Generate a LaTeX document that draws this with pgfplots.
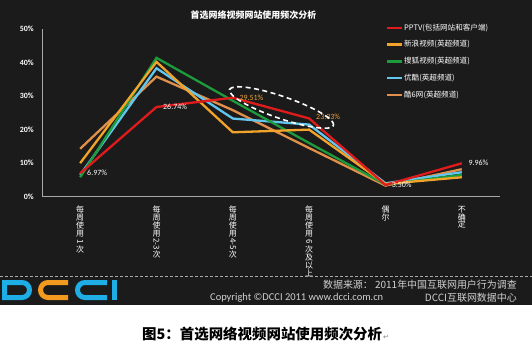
\documentclass[border=0pt]{standalone}
\usepackage{pgfplots}
\pgfplotsset{compat=1.18}
\usepackage{graphicx}
\usepackage{fontspec}
\usetikzlibrary{shapes.geometric}
\setmainfont{Carlito}
\newfontfamily\cjk{Noto Sans CJK SC}
\newfontfamily\djv{DejaVu Sans}
\definecolor{bg}{HTML}{1B1B1B}
\definecolor{cred}{HTML}{E01B1B}
\definecolor{csina}{HTML}{F2A42A}
\definecolor{cgreen}{HTML}{1E9B3C}
\definecolor{cblue}{HTML}{62C6EE}
\definecolor{ck6}{HTML}{E0904A}
\definecolor{lblorange}{HTML}{E9A23B}
\definecolor{axisgray}{HTML}{A8A8A8}
\definecolor{foot}{HTML}{D0D0D0}
\definecolor{logoblue}{HTML}{1FADE6}
\definecolor{logoorange}{HTML}{F29A1F}
\begin{document}
\begin{tikzpicture}
\path[use as bounding box] (0,0) rectangle (532bp,-354bp);
\fill[white] (0,0) rectangle (532bp,-354bp);
\fill[bg] (0,0) rectangle (532bp,-305bp);
\node[text=white, font=\cjk\bfseries\fontsize{9}{9}\selectfont] at (253.5bp,-15bp) {首选网络视频网站使用频次分析};
\begin{axis}[
  at={(42bp,-196.7bp)}, anchor=south west,
  scale only axis, width=458bp, height=167.7bp,
  xmin=-0.5, xmax=5.5, ymin=0, ymax=50,
  axis lines*=left,
  axis line style={axisgray, line width=1bp},
  major tick length=0pt,
  ytick={0,10,20,30,40,50},
  yticklabel={\pgfmathprintnumber{\tick}\%},
  yticklabel style={text=white, font=\bfseries\fontsize{8}{8}\selectfont, /pgf/number format/assume math mode=true, inner sep=0pt, xshift=-8bp},
  xtick={0,1,2,3,4,5},
  xticklabels={
    {每\\周\\使\\用\\\rotatebox[origin=c]{-90}{1}\\次},
    {每\\周\\使\\用\\\rotatebox[origin=c]{-90}{2-3}\\次},
    {每\\周\\使\\用\\\rotatebox[origin=c]{-90}{4-5}\\次},
    {每\\周\\使\\用\\\rotatebox[origin=c]{-90}{6}\\次\\及\\以\\上},
    {偶\\尔},
    {不\\确\\定}},
  xticklabel style={text=white, align=center, font=\cjk\fontsize{8}{8}\selectfont, anchor=north, inner sep=0pt, yshift=-9bp},
  clip=false,
  every axis plot/.append style={line width=2.3bp},
  legend style={at={(axis description cs:0.751,1.035)}, anchor=north west, draw=none, fill=none, text=white,
    font=\cjk\fontsize{7.6}{7.6}\selectfont, row sep=7.8bp, inner sep=0pt,
    nodes={inner sep=0.6bp, text height=6.2bp, text depth=1.6bp}},
  legend cell align=left,
  legend image code/.code={\draw[#1, line width=2.4bp] (0bp,0bp) -- (15bp,0bp);},
  reverse legend,
]
\addplot[ck6] coordinates {(0,14.3) (1,35.8) (2,25.8) (3,14.5) (4,3.3) (5,8.2)};
\addlegendentry{酷6网(英超频道)}
\addplot[cblue] coordinates {(0,6.5) (1,38.3) (2,23.3) (3,21.5) (4,4.0) (5,7.3)};
\addlegendentry{优酷(英超频道)}
\addplot[cgreen] coordinates {(0,5.8) (1,41.4) (2,28.6) (3,16.0) (4,3.6) (5,6.5)};
\addlegendentry{搜狐视频(英超频道)}
\addplot[csina] coordinates {(0,10.0) (1,40.2) (2,19.2) (3,20.0) (4,3.8) (5,5.8)};
\addlegendentry{新浪视频(英超频道)}
\addplot[cred] coordinates {(0,6.97) (1,26.74) (2,29.51) (3,23.33) (4,3.50) (5,9.96)};
\addlegendentry{PPTV(包括网站和客户端)}
\node[anchor=west, text=white, font=\fontsize{8}{8}\selectfont, inner sep=0pt] at (axis cs:0.09,7.07) {6.97\%};
\node[anchor=west, text=white, font=\fontsize{8}{8}\selectfont, inner sep=0pt] at (axis cs:1.085,26.8) {26.74\%};
\node[anchor=west, text=lblorange, font=\fontsize{8}{8}\selectfont, inner sep=0pt] at (axis cs:2.085,29.5) {29.51\%};
\node[anchor=west, text=lblorange, font=\fontsize{8}{8}\selectfont, inner sep=0pt] at (axis cs:3.09,23.7) {23.33\%};
\node[anchor=west, text=white, font=\fontsize{8}{8}\selectfont, inner sep=0pt] at (axis cs:4.08,3.5) {3.50\%};
\node[anchor=west, text=white, font=\fontsize{8}{8}\selectfont, inner sep=0pt] at (axis cs:5.085,9.96) {9.96\%};
\node[draw=white, ellipse, dash pattern=on 5bp off 3.5bp, line width=1.6bp, minimum width=110bp, minimum height=22bp, rotate=-19, inner sep=0pt] at (axis cs:2.638,26.6) {};
\end{axis}
% footer
\draw[axisgray, dash pattern=on 3bp off 2bp, line width=1bp] (0,-276.5bp) -- (532bp,-276.5bp);
\begin{scope}[line width=5bp]
\draw[logoblue] (4.5bp,-282.5bp) -- (22bp,-282.5bp) arc[start angle=90, end angle=-90, radius=7.5bp] -- (4.5bp,-297.5bp) -- cycle;
\draw[logoorange] (68bp,-282.5bp) -- (48bp,-282.5bp) arc[start angle=90, end angle=270, radius=7.5bp] -- (68bp,-297.5bp);
\draw[logoblue] (107bp,-282.5bp) -- (85bp,-282.5bp) arc[start angle=90, end angle=270, radius=7.5bp] -- (107bp,-297.5bp);
\fill[logoblue] (112bp,-280bp) rectangle (117bp,-300bp);
\end{scope}
\node[anchor=east, text=foot, font=\cjk\fontsize{10}{10}\selectfont, inner sep=0pt] at (517bp,-285bp) {数据来源： 2011年中国互联网用户行为调查};
\node[anchor=west, text=foot, font=\fontsize{10.5}{10.5}\selectfont, inner sep=0pt] at (210bp,-298bp) {Copyright ©DCCI 2011 www.dcci.com.cn};
\node[anchor=east, text=foot, font=\cjk\fontsize{10}{10}\selectfont, inner sep=0pt] at (517bp,-298bp) {DCCI互联网数据中心};
\node[anchor=west, text=black, font=\cjk\bfseries\fontsize{14.5}{14.5}\selectfont, inner sep=0pt] at (142bp,-334bp) {图5：首选网络视频网站使用频次分析};
\node[anchor=west, text=gray, font=\djv\fontsize{7}{7}\selectfont, inner sep=0pt] at (383bp,-337bp) {↵};
\end{tikzpicture}
\end{document}
